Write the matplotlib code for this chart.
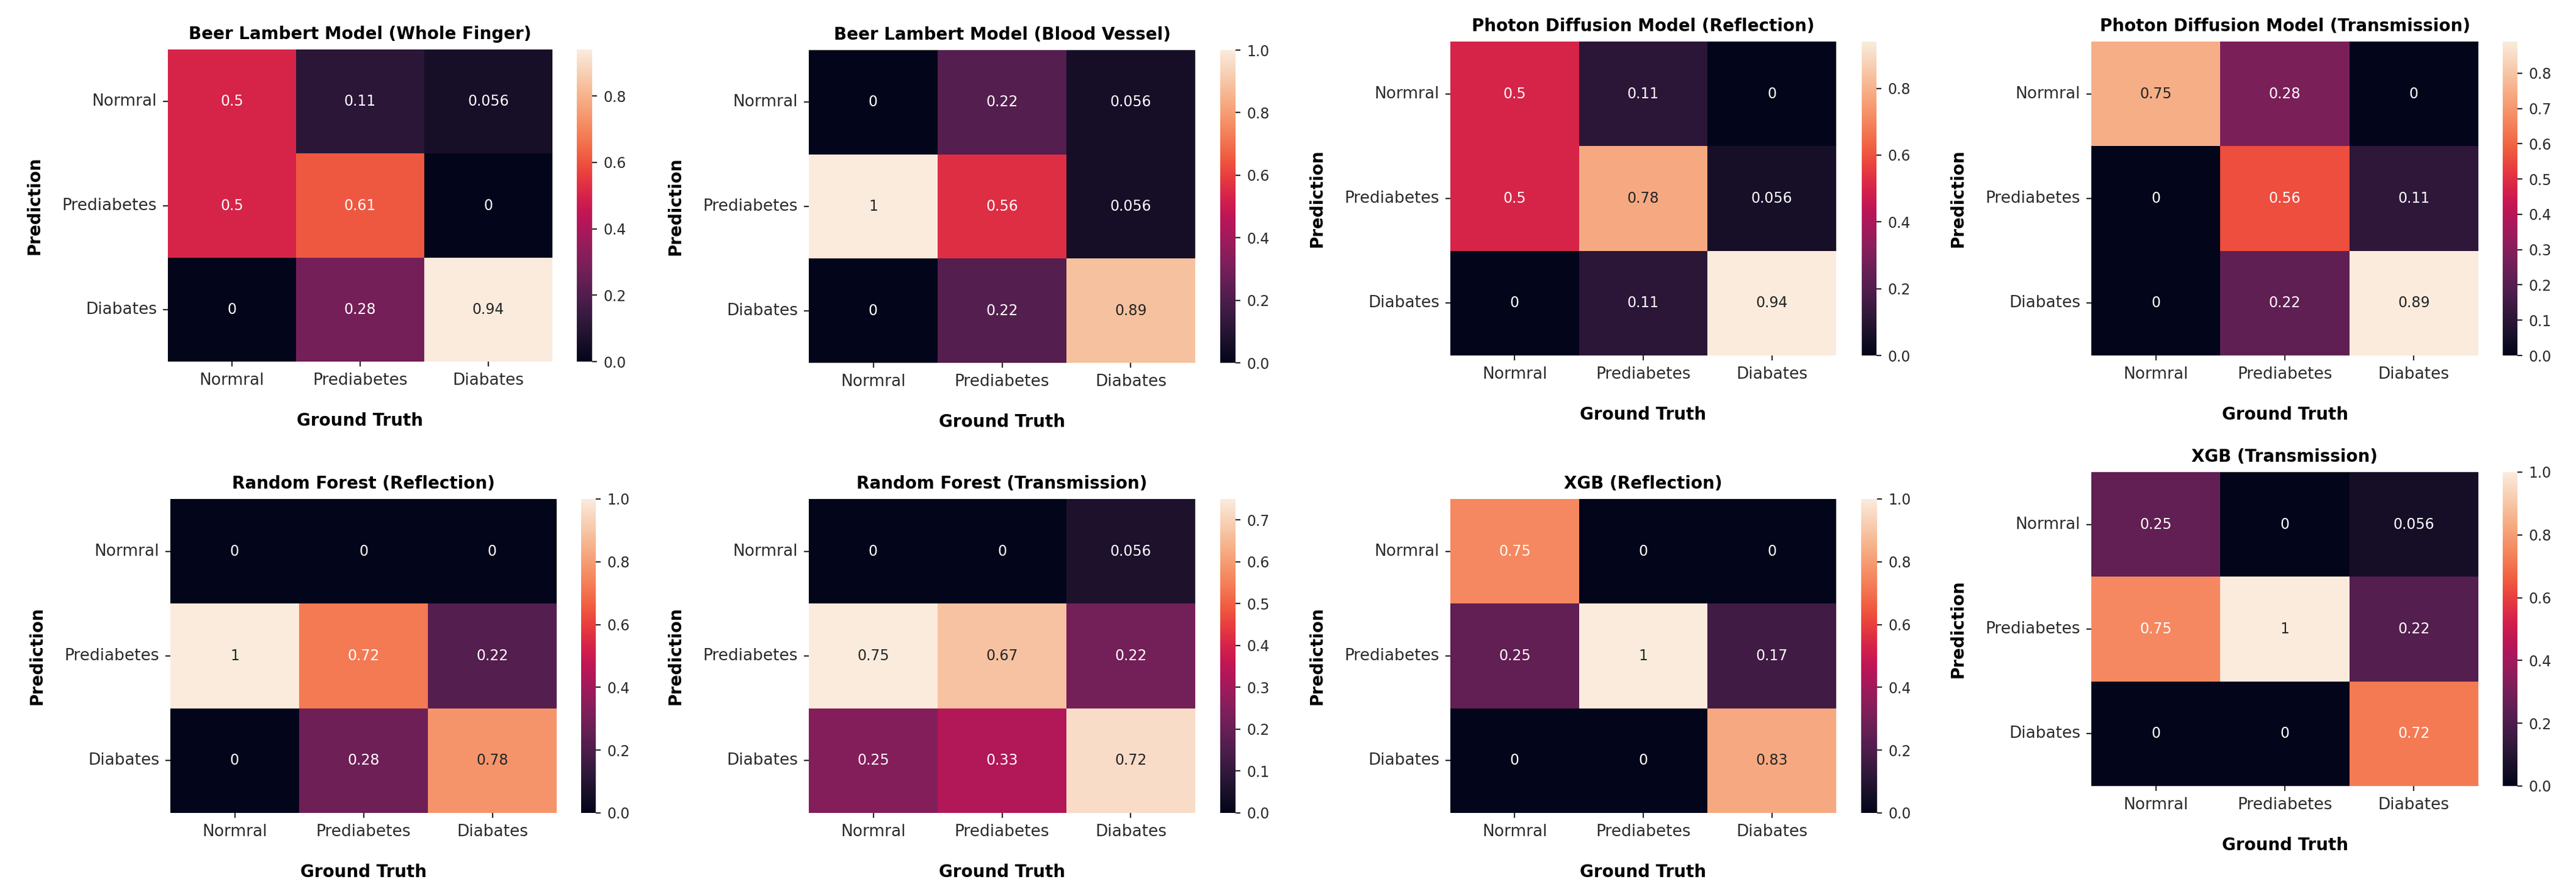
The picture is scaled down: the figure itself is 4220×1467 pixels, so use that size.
import matplotlib
matplotlib.use('Agg')
import matplotlib.pyplot as plt
import seaborn as sns
import numpy as np

# class names as written on the axes
classes = ['Normral', 'Prediabetes', 'Diabates']

titles = ['Beer Lambert Model (Whole Finger)', 'Beer Lambert Model (Blood Vessel)',
          'Photon Diffusion Model (Reflection)', 'Photon Diffusion Model (Transmission)',
          'Random Forest (Reflection)', 'Random Forest (Transmission)',
          'XGB (Reflection)', 'XGB (Transmission)']

# rows = prediction, columns = ground truth
bl_finger = [[0.5, 0.11, 0.056], [0.5, 0.61, 0], [0, 0.28, 0.94]]
bl_vessel = [[0, 0.22, 0.056], [1, 0.56, 0.056], [0, 0.22, 0.89]]
pd_reflection = [[0.5, 0.11, 0], [0.5, 0.78, 0.056], [0, 0.11, 0.94]]
pd_transmission = [[0.75, 0.28, 0], [0, 0.56, 0.11], [0, 0.22, 0.89]]
rf_reflection = [[0, 0, 0], [1, 0.72, 0.22], [0, 0.28, 0.78]]
rf_transmission = [[0, 0, 0.056], [0.75, 0.67, 0.22], [0.25, 0.33, 0.72]]
xgb_reflection = [[0.75, 0, 0], [0.25, 1, 0.17], [0, 0, 0.83]]
xgb_transmission = [[0.25, 0, 0.056], [0.75, 1, 0.22], [0, 0, 0.72]]

matrices = [bl_finger, bl_vessel, pd_reflection, pd_transmission,
            rf_reflection, rf_transmission, xgb_reflection, xgb_transmission]

# panel placement in pixels: heatmap x0, x1, y0, y1, colorbar x0, x1
W, H = 4220, 1467
layout = [
    (275, 905, 81, 592, 945, 970),
    (1325, 1958, 82, 594, 1999, 2024),
    (2376, 3008, 68, 582, 3050, 3074),
    (3426, 4060, 68, 582, 4100, 4124),
    (279, 912, 817, 1331, 952, 976),
    (1325, 1958, 817, 1331, 1999, 2024),
    (2376, 3008, 817, 1331, 3049, 3075),
    (3426, 4060, 773, 1287, 4100, 4124),
]


def rect(x0, x1, y0, y1):
    return [x0 / W, 1 - y1 / H, (x1 - x0) / W, (y1 - y0) / H]


fig = plt.figure(figsize=(W / 200, H / 200), dpi=200)
txt = '#2b2b2b'

for title, mat, (x0, x1, y0, y1, c0, c1) in zip(titles, matrices, layout):
    ax = fig.add_axes(rect(x0, x1, y0, y1))
    cax = fig.add_axes(rect(c0, c1, y0, y1))
    sns.heatmap(np.array(mat), annot=True, cmap='rocket', ax=ax, cbar_ax=cax,
                xticklabels=classes, yticklabels=classes,
                annot_kws={'size': 8.5})
    ax.set_title(title, fontsize=10, fontweight='bold', pad=6)
    ax.set_xlabel('Ground Truth', fontsize=10, fontweight='bold', labelpad=14)
    ax.set_ylabel('Prediction', fontsize=10, fontweight='bold', labelpad=11)
    ax.tick_params(axis='both', labelsize=9.5, colors=txt, labelcolor=txt, length=3)
    plt.setp(ax.get_yticklabels(), rotation=0)
    plt.setp(ax.get_xticklabels(), rotation=0)
    cax.tick_params(labelsize=8.5, length=3, colors=txt, labelcolor=txt)

fig.savefig('out.png', dpi=200, facecolor='white')
